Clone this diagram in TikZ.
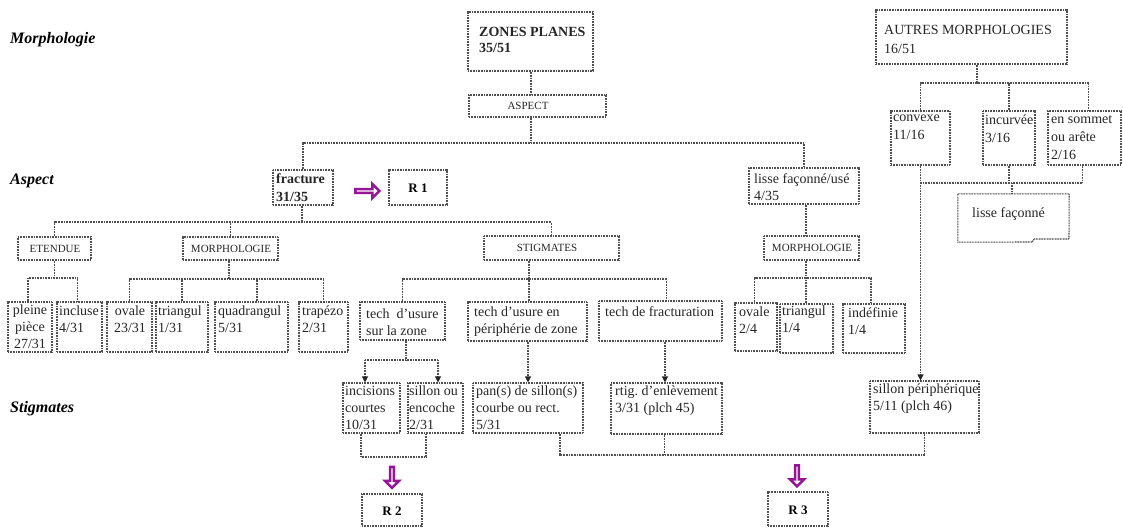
\documentclass[tikz,border=0pt]{standalone}
\usepackage{fontspec}
\setmainfont{Liberation Serif}
\usetikzlibrary{fit,calc,shapes.arrows,arrows.meta}
\definecolor{purp}{RGB}{150,20,150}
\definecolor{lng}{RGB}{80,80,80}
\newcommand\mkbox[5]{\node[bx, fit={(#2,#3) (#4,#5)}] (#1) {};}
\begin{document}
\begin{tikzpicture}[x=1pt,y=-1pt,
  bx/.style={draw=lng, line width=1.1pt, dash pattern=on 1pt off 0.6pt, inner sep=0pt},
  ln/.style={draw=lng, line width=1.1pt, dash pattern=on 1pt off 0.6pt},
  arr/.style={ln, -{Triangle[length=6pt,width=6pt,color=black!85]}},
  tx/.style={anchor=north west, inner sep=0pt, align=left, text=black!85, font=\fontsize{14}{17}\selectfont, execute at begin node={\rule{0pt}{10pt}}},
  txc/.style={tx, anchor=north, align=center},
  txb/.style={tx, font=\fontsize{14}{18}\selectfont\bfseries},
  caplab/.style={anchor=center, inner sep=0pt, text=black!85, font=\fontsize{11}{13}\selectfont},
  rlab/.style={anchor=center, inner sep=0pt, font=\fontsize{13}{15}\selectfont\bfseries},
  side/.style={anchor=west, inner sep=0pt, font=\fontsize{16}{19}\selectfont\bfseries\itshape},
  pa/.style={single arrow, draw=purp, fill=white, line width=2.5pt, inner sep=0pt,
    minimum width=14pt, single arrow head extend=3.5pt, single arrow head indent=0pt}
]
\fill[white] (0,0) rectangle (1123,527);
\useasboundingbox (0,0) rectangle (1123,527);

% side labels
\node[side] (lmorph) at (10,40) {Morphologie};
\node[side] (laspect) at (10,181) {Aspect};
\node[side] (lstig) at (10,409) {Stigmates};

% boxes
\mkbox{zp}{468}{12}{593}{71}
\mkbox{asp}{469}{95}{606}{117}
\mkbox{fr}{273}{170}{333}{205}
\mkbox{r1}{389}{170}{447}{205}
\mkbox{li}{749}{168}{859}{204}
\mkbox{au}{876}{10}{1067}{64}
\mkbox{cv}{891}{111}{950}{165}
\mkbox{ic}{983}{111}{1035}{165}
\mkbox{es}{1048}{111}{1121}{165}
\mkbox{et}{18}{237}{91}{260}
\mkbox{mo1}{183}{237}{278}{260}
\mkbox{st}{484}{236}{619}{260}
\mkbox{mo2}{764}{236}{859}{260}
\mkbox{pp}{8}{302}{52}{352}
\mkbox{inc}{57}{302}{102}{352}
\mkbox{ov}{107}{302}{152}{352}
\mkbox{tri}{156}{302}{208}{352}
\mkbox{qu}{215}{302}{288}{352}
\mkbox{tz}{299}{302}{348}{352}
\mkbox{tu}{360}{302}{445}{340}
\mkbox{tp}{468}{302}{587}{341}
\mkbox{tf}{599}{301}{722}{341}
\mkbox{ov2}{735}{303}{777}{351}
\mkbox{tr2}{780}{304}{833}{353}
\mkbox{ind}{843}{304}{905}{353}
\mkbox{inc2}{343}{383}{400}{433}
\mkbox{so}{408}{383}{463}{433}
\mkbox{ps}{473}{383}{583}{433}
\mkbox{rt}{611}{383}{722}{434}
\mkbox{sp}{870}{381}{979}{433}
\mkbox{r2}{362}{494}{422}{526}
\mkbox{r3}{768}{492}{828}{526}
\node[fit={(958,194) (1069,242)}, inner sep=0pt] (lf) {};
\draw[ln] (lf.north west) -- (lf.north east) -- (1069,239) -- (1034,239) -- (1032,242) -- (lf.south west) -- cycle;

% texts
\node[txb, font=\fontsize{14}{16}\selectfont\bfseries] (zp-t) at (479,27) {ZONES PLANES\\35/51};
\node[caplab] (asp-t) at (528,106) {ASPECT};
\node[txb] (fr-t) at (276,173) {fracture\\31/35};
\node[rlab] (r1-t) at (418,188) {R 1};
\node[tx] (li-t) at (754,173) {lisse façonné/usé\\4/35};
\node[tx, font=\fontsize{14}{19}\selectfont] (au-t) at (884,25) {AUTRES MORPHOLOGIES\\16/51};
\node[tx, font=\fontsize{14}{18}\selectfont] (cv-t) at (893,115) {convexe\\11/16};
\node[tx, font=\fontsize{14}{18}\selectfont] (ic-t) at (985,115) {incurvée\\3/16};
\node[tx, font=\fontsize{14}{18}\selectfont] (es-t) at (1051,115) {en sommet\\ou arête\\2/16};
\node[tx] (lf-t) at (972,207) {lisse façonné};
\node[caplab] (et-t) at (55,249) {ETENDUE};
\node[caplab] (mo1-t) at (231,249) {MORPHOLOGIE};
\node[caplab] (st-t) at (547,248) {STIGMATES};
\node[caplab] (mo2-t) at (812,248) {MORPHOLOGIE};
\node[txc] (pp-t) at (30,305) {pleine\\pièce\\27/31};
\node[tx] (inc-t) at (59,306) {incluse\\4/31};
\node[txc] (ov-t) at (130,306) {ovale\\23/31};
\node[tx] (tri-t) at (158,306) {triangul\\1/31};
\node[tx] (qu-t) at (218,306) {quadrangul\\5/31};
\node[tx] (tz-t) at (302,306) {trapézo\\2/31};
\node[tx] (tu-t) at (366,309) {tech\ \ d'usure\\sur la zone};
\node[tx] (tp-t) at (474,307) {tech d'usure en\\périphérie de zone};
\node[tx] (tf-t) at (605,306) {tech de fracturation};
\node[tx] (ov2-t) at (739,307) {ovale\\2/4};
\node[tx] (tr2-t) at (782,306) {triangul\\1/4};
\node[tx] (ind-t) at (848,307) {indéfinie\\1/4};
\node[tx] (inc2-t) at (345,386) {incisions\\courtes\\10/31};
\node[tx] (so-t) at (409,386) {sillon ou\\encoche\\2/31};
\node[tx] (ps-t) at (476,386) {pan(s) de sillon(s)\\courbe ou rect.\\5/31};
\node[tx] (rt-t) at (615,386) {rtig.\ d'enlèvement\\3/31 (plch 45)};
\node[tx] (sp-t) at (873,384) {sillon périphérique\\5/11 (plch 46)};
\node[rlab] (r2-t) at (392,511) {R 2};
\node[rlab] (r3-t) at (798,510) {R 3};

% purple arrows
\node[pa, minimum height=24pt] (pa1) at (366.5,191) {};
\node[pa, minimum height=21pt, shape border rotate=270] (pa2) at (392,476.5) {};
\node[pa, minimum height=21pt, shape border rotate=270] (pa3) at (797,475) {};

% connectors
\coordinate (j1) at (531,143);
\draw[ln] (zp.south -| j1) -- (asp.north -| j1);
\draw[ln] (asp.south -| j1) -- (j1);
\draw[ln] (fr.north) |- (j1) -| (li.north);

\coordinate (j2) at (302,222);
\draw[ln] (fr.south -| j2) -- (j2);
\draw[ln] (et.north) |- (j2) -| (st.north);
\draw[ln] (mo1.north) -- (mo1.north |- j2);

\coordinate (j3) at (54,278);
\coordinate (ppt) at ($(pp.north)+(-2,0)$);
\coordinate (inct) at ($(inc.north)+(-2,0)$);
\draw[ln] (et.south) -- (et.south |- j3);
\draw[ln] (ppt) |- (j3) -| (inct);

\coordinate (j4) at (229,279);
\coordinate (qut) at ($(qu.north)+(5.5,0)$);
\draw[ln] (mo1.south -| j4) -- (j4);
\draw[ln] (ov.north) |- (j4) -| (tz.north);
\draw[ln] (tri.north) -- (tri.north |- j4);
\draw[ln] (qut) -- (qut |- j4);

\coordinate (j5) at (529,279);
\coordinate (tft) at ($(tf.north)+(6,0)$);
\draw[ln] (st.south -| j5) -- (j5);
\draw[ln] (tu.north) |- (j5) -| (tft);
\draw[ln] (tp.north -| j5) -- (j5);

\coordinate (j6) at (406,360);
\coordinate (j6a) at (365,360);
\coordinate (j6b) at (438,360);
\coordinate (tfb) at ($(tf.south)+(4.5,0)$);
\draw[ln] (tu.south -| j6) -- (j6);
\draw[ln] (j6a) -- (j6b);
\draw[arr] (j6a) -- (j6a |- inc2.north);
\draw[arr] (j6b) -- (j6b |- so.north);
\draw[arr] (tp.south -| ps.north) -- (ps.north);
\draw[arr] (tfb) -- (tfb |- rt.north);

\coordinate (j7) at (806,278);
\coordinate (ov2t) at ($(ov2.north)+(-1.5,0)$);
\coordinate (indt) at ($(ind.north)+(-3,0)$);
\draw[ln] (li.south -| j7) -- (mo2.north -| j7);
\draw[ln] (mo2.south -| j7) -- (j7);
\draw[ln] (ov2t) |- (j7) -| (indt);
\draw[ln] (tr2.north -| j7) -- (j7);

\coordinate (j8) at (977,83);
\coordinate (est) at ($(es.north)+(4,0)$);
\draw[ln] (au.south -| j8) -- (j8);
\draw[ln] (cv.north) |- (j8) -| (est);
\draw[ln] (ic.north) -- (ic.north |- j8);

\coordinate (j9) at (1012,183);
\coordinate (esb) at ($(es.south)+(-2,0)$);
\draw[arr] (cv.south) -- (cv.south |- sp.north);
\draw[ln] (esb) |- (cv.south |- j9);
\draw[ln] (ic.south) -- (ic.south |- j9);
\draw[ln] (j9) -- (j9 |- lf.north);

\coordinate (k1) at (361,457);
\coordinate (k2) at (426,457);
\draw[ln] (k1 |- inc2.south) -- (k1) -- (k2) -- (k2 |- so.south);

\coordinate (k3) at (560,455);
\coordinate (rtb) at ($(rt.south)+(-2,0)$);
\draw[ln] (k3 |- ps.south) -- (k3) -| (sp.south);
\draw[ln] (rtb) -- (rtb |- k3);
\end{tikzpicture}
\end{document}
